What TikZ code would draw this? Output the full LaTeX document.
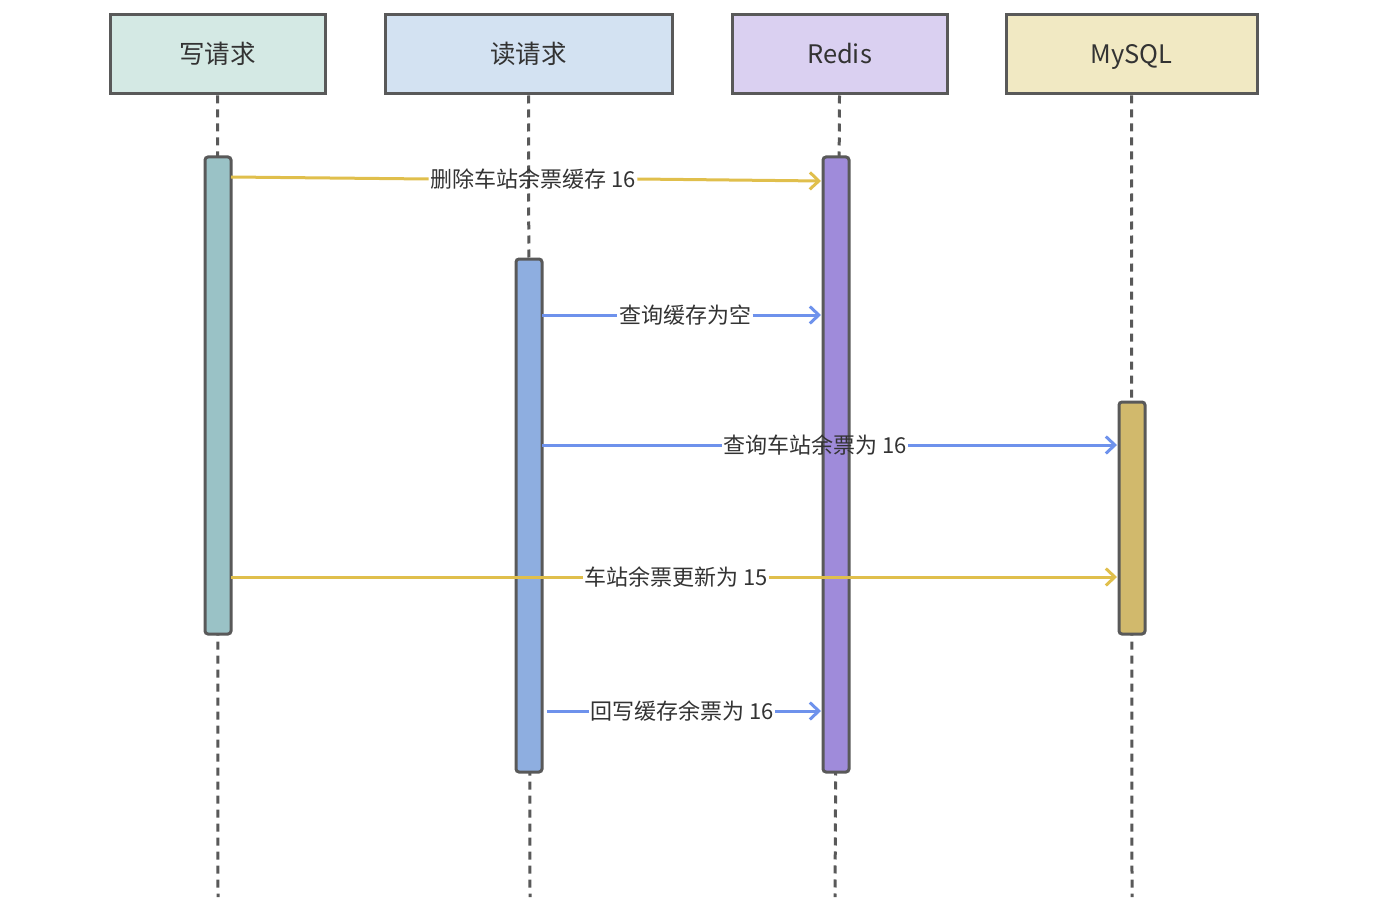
\documentclass[tikz,border=0pt]{standalone}
\usepackage{fontspec}
\setmainfont{Noto Sans CJK SC}
\usetikzlibrary{arrows.meta}
\definecolor{edge}{HTML}{595959}
\definecolor{txt}{HTML}{333333}
\definecolor{hwrite}{HTML}{D4E9E4}
\definecolor{hread}{HTML}{D3E2F2}
\definecolor{hredis}{HTML}{DAD0F1}
\definecolor{hmysql}{HTML}{F1E9C3}
\definecolor{bwrite}{HTML}{9AC2C6}
\definecolor{bread}{HTML}{8EAEE0}
\definecolor{bredis}{HTML}{9F8BDA}
\definecolor{bmysql}{HTML}{D1B96C}
\definecolor{ayellow}{HTML}{E0BF4C}
\definecolor{ablue}{HTML}{6E92EC}
\begin{document}
\begin{tikzpicture}[x=1pt,y=-1pt,
  header/.style={draw=edge, line width=3pt, minimum height=79pt, inner sep=0pt, text=txt, text height=22pt, text depth=3pt, font=\fontsize{25.5}{28}\selectfont},
  actbar/.style={draw=edge, line width=3pt, rounded corners=3pt, minimum width=26pt, inner sep=0pt},
  life/.style={draw=edge, line width=3pt, dash pattern=on 8pt off 6pt},
  msg/.style={line width=3pt},
  tip/.style={-{Straight Barb[length=9pt,width=17pt,line width=3pt]}},
  lbl/.style={text=txt, inner sep=1.5pt, text height=19pt, text depth=2.5pt, font=\fontsize{22}{24}\selectfont}
]
\useasboundingbox (0,0) rectangle (1378,912);

% headers
\node[header, fill=hwrite, minimum width=215pt] (hw) at (217.5,54.5) {写请求};
\node[header, fill=hread, minimum width=287pt] (hr) at (528.5,54.5) {读请求};
\node[header, fill=hredis, minimum width=215pt] (hd) at (839.5,54.5) {Redis};
\node[header, fill=hmysql, minimum width=251pt] (hm) at (1131.5,54.5) {MySQL};

% lifeline ends
\coordinate (ew) at (218,897);
\coordinate (er) at (530,897);
\coordinate (ed) at (835,897);
\coordinate (em) at (1132,897);

\draw[life] (hw.south) -- (ew);
\draw[life] (hr.south) -- (er);
\draw[life] (hd.south) -- (ed);
\draw[life] (hm.south) -- (em);

% activation bars
\node[actbar, fill=bwrite, minimum height=477pt] (bw) at (218,395.5) {};
\node[actbar, fill=bread, minimum height=513pt] (br) at (529,515.5) {};
\node[actbar, fill=bredis, minimum height=615pt] (bd) at (836,464.5) {};
\node[actbar, fill=bmysql, minimum height=232pt] (bm) at (1132,518) {};

% message endpoints
\coordinate (m1s) at (231,177);
\coordinate (m1e) at (821,181);
\coordinate (m2s) at (542,315);
\coordinate (m2e) at (821,315);
\coordinate (m3s) at (542,445);
\coordinate (m3e) at (1117,445);
\coordinate (m4s) at (231,577);
\coordinate (m4e) at (1117,577);
\coordinate (m5s) at (547,711);
\coordinate (m5e) at (821,711);

% messages
\node[lbl] (l1) at (533,179) {删除车站余票缓存 16};
\draw[msg, ayellow] (m1s) -- (l1.west);
\draw[msg, ayellow, tip] (l1.east) -- (m1e);

\node[lbl] (l2) at (685,315) {查询缓存为空};
\draw[msg, ablue] (m2s) -- (l2.west);
\draw[msg, ablue, tip] (l2.east) -- (m2e);

\node[lbl] (l3) at (815,445) {查询车站余票为 16};
\draw[msg, ablue] (m3s) -- (l3.west);
\draw[msg, ablue, tip] (l3.east) -- (m3e);

\node[lbl] (l4) at (676,577) {车站余票更新为 15};
\draw[msg, ayellow] (m4s) -- (l4.west);
\draw[msg, ayellow, tip] (l4.east) -- (m4e);

\node[lbl] (l5) at (682,711) {回写缓存余票为 16};
\draw[msg, ablue] (m5s) -- (l5.west);
\draw[msg, ablue, tip] (l5.east) -- (m5e);
\end{tikzpicture}
\end{document}
